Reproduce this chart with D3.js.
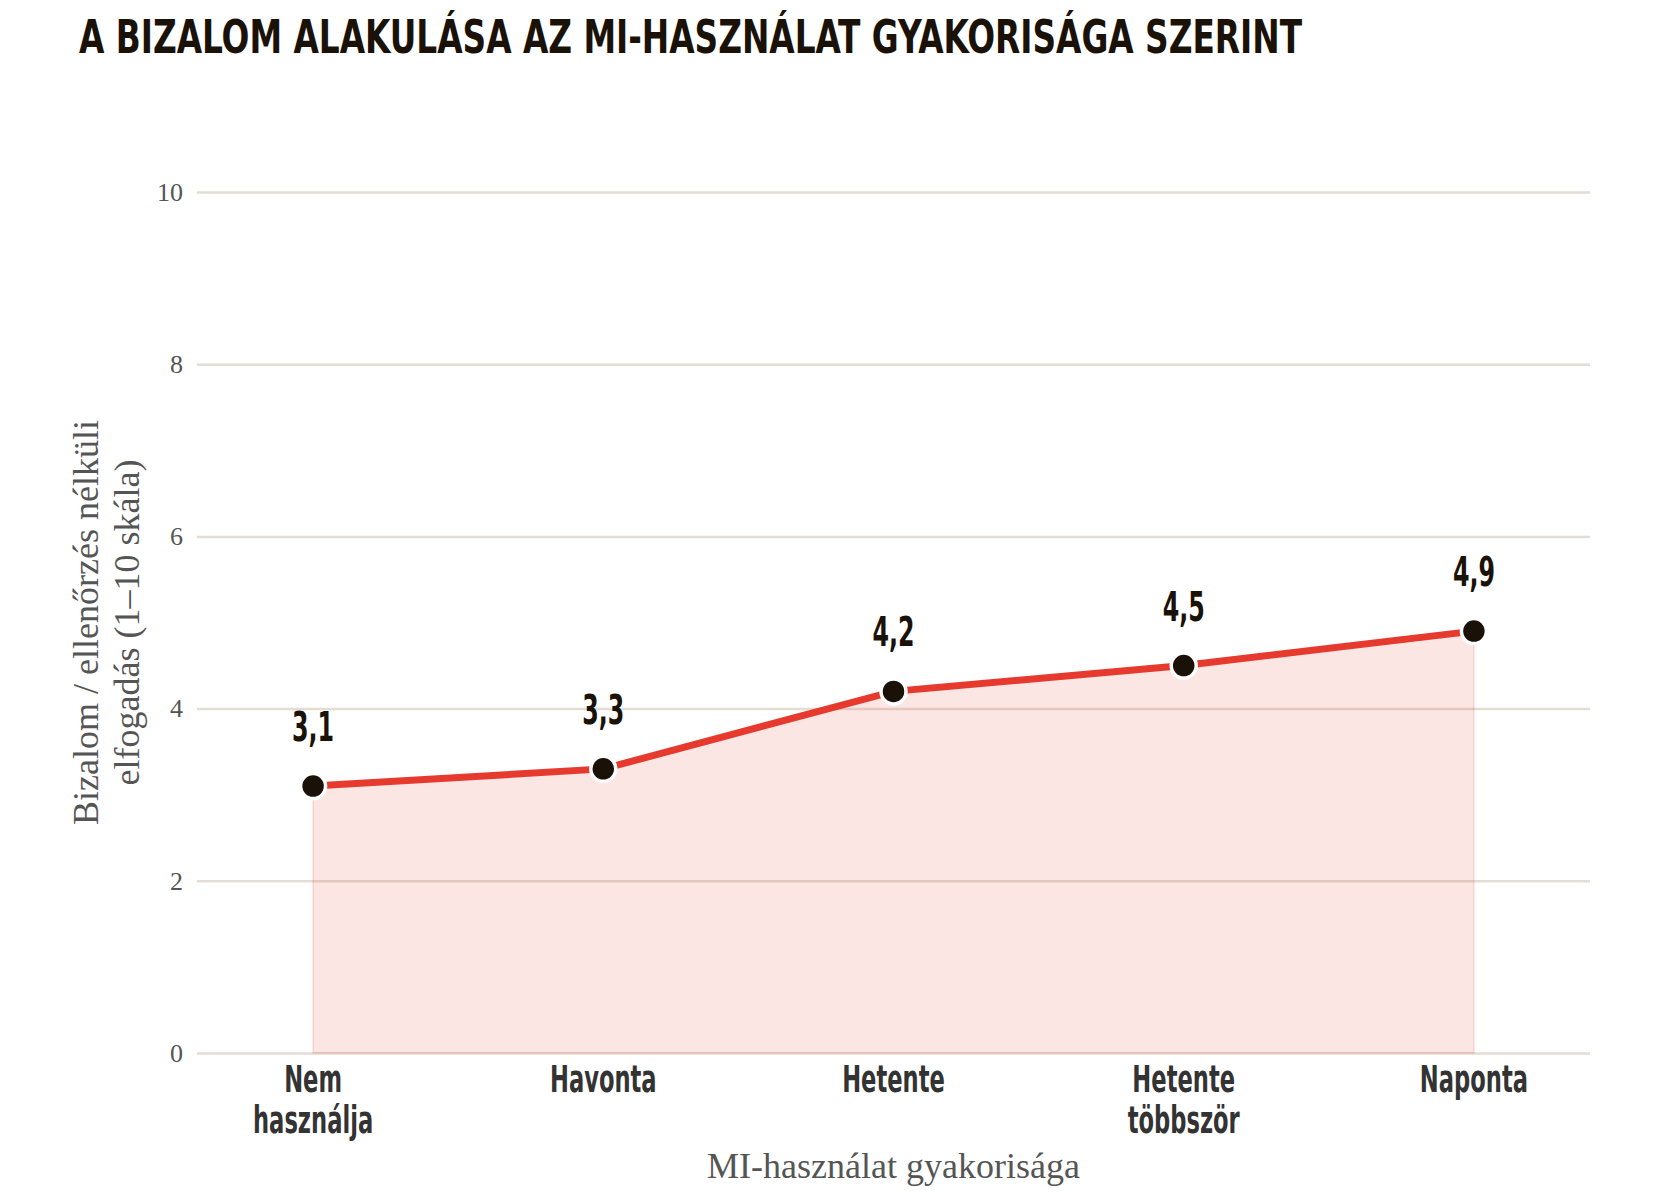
<!DOCTYPE html>
<html>
<head>
<meta charset="utf-8">
<script src="https://cdn.jsdelivr.net/npm/d3@7"></script>
<style>
    body { margin: 0; background: #fff; }
    #corpo { width: 1658px; height: 1194px; }
    .cond { font-family: "Liberation Sans Narrow", "DejaVu Sans Condensed", sans-serif; font-weight: bold; }
    .serif { font-family: "Liberation Serif", "DejaVu Serif", serif; }
</style>
</head>
<body>
<div id="corpo"></div>
<script>
// adatok
var categories = ["Nem\nhasználja", "Havonta", "Hetente", "Hetente\ntöbbször", "Naponta"];
var values = [3.1, 3.3, 4.2, 4.5, 4.9];
var yTicks = [0, 2, 4, 6, 8, 10];

var titleText = "A BIZALOM ALAKULÁSA AZ MI-HASZNÁLAT GYAKORISÁGA SZERINT";
var xTitle = "MI-használat gyakorisága";
var yTitle = ["Bizalom / ellenőrzés nélküli", "elfogadás (1–10 skála)"];

var data = categories.map(function(c, i){ return {tipo: c, valor: values[i]}; });

var width = 1658, height = 1194;
var mLeft = 197, mRight = 1590, mTop = 192, mBottom = 1053;
var squeeze = 0.68; // keskeny betű utánzása

var svg = d3.select("#corpo").append("svg")
    .attr("width", width)
    .attr("height", height);

var x = d3.scalePoint()
    .domain(categories)
    .range([mLeft, mRight])
    .padding(0.4);

var y = d3.scaleLinear()
    .domain([0, 10])
    .range([mBottom, mTop]);

// cím
svg.append("text")
    .attr("class", "cond")
    .attr("x", 79)
    .attr("y", 53)
    .attr("textLength", 1223)
    .attr("lengthAdjust", "spacingAndGlyphs")
    .style("font-size", "46px")
    .style("fill", "#1a1209")
    .text(titleText);

// rácsvonalak + y tengely
var yAxis = svg.append("g")
    .attr("transform", "translate(" + mLeft + ",0)")
    .call(d3.axisLeft(y).tickValues(yTicks).tickSize(-(mRight - mLeft)).tickPadding(14));

yAxis.select(".domain").remove();
yAxis.selectAll(".tick line")
    .style("stroke", "#e4ddd3")
    .style("stroke-width", 2.5);
yAxis.selectAll(".tick text")
    .attr("class", "serif")
    .style("font-size", "26px")
    .style("fill", "#555");

// terület
var area = d3.area()
    .x(function(d){ return x(d.tipo); })
    .y0(y(0))
    .y1(function(d){ return y(d.valor); });

svg.append("path")
    .datum(data)
    .attr("d", area)
    .style("fill", "#e63a2e")
    .style("fill-opacity", 0.13)
    .style("stroke", "#e63a2e")
    .style("stroke-opacity", 0.13)
    .style("stroke-width", 2);

// vonal
var line = d3.line()
    .x(function(d){ return x(d.tipo); })
    .y(function(d){ return y(d.valor); });

svg.append("path")
    .datum(data)
    .attr("d", line)
    .style("fill", "none")
    .style("stroke", "#e63a2e")
    .style("stroke-width", 7);

// pontok
svg.selectAll(".pont")
    .data(data)
    .enter().append("circle")
    .attr("class", "pont")
    .attr("cx", function(d){ return x(d.tipo); })
    .attr("cy", function(d){ return y(d.valor); })
    .attr("r", 12.5)
    .style("fill", "#1a1209")
    .style("stroke", "#fff")
    .style("stroke-width", 3.5);

// értékcímkék
svg.selectAll(".cimke")
    .data(data)
    .enter().append("text")
    .attr("class", "cimke cond")
    .attr("transform", function(d){
        return "translate(" + x(d.tipo) + "," + (y(d.valor) - 45) + ") scale(" + (squeeze - 0.02) + ",1)";
    })
    .attr("text-anchor", "middle")
    .style("font-size", "40px")
    .style("fill", "#1a1209")
    .text(function(d){ return d.valor.toFixed(1).replace(".", ","); });

// x tengely feliratok
var xlab = svg.selectAll(".xlab")
    .data(categories)
    .enter().append("text")
    .attr("class", "xlab cond")
    .attr("transform", function(c){ return "translate(" + x(c) + ",1092) scale(" + squeeze + ",1)"; })
    .attr("text-anchor", "middle")
    .style("font-size", "37px")
    .style("fill", "#333");

xlab.each(function(c){
    var parts = c.split("\n");
    var t = d3.select(this);
    parts.forEach(function(p, i){
        t.append("tspan")
            .attr("x", 0)
            .attr("y", i * 41)
            .text(p);
    });
});

// tengelycímek
svg.append("text")
    .attr("class", "serif")
    .attr("x", (mLeft + mRight) / 2)
    .attr("y", 1178)
    .attr("text-anchor", "middle")
    .style("font-size", "36px")
    .style("fill", "#555")
    .text(xTitle);

var yt = svg.append("text")
    .attr("class", "serif")
    .attr("transform", "translate(0," + (mTop + mBottom) / 2 + ") rotate(-90)")
    .attr("text-anchor", "middle")
    .style("font-size", "36px")
    .style("fill", "#555");

yTitle.forEach(function(p, i){
    yt.append("tspan")
        .attr("x", 0)
        .attr("y", 98 + i * 41)
        .text(p);
});
</script>
</body>
</html>
